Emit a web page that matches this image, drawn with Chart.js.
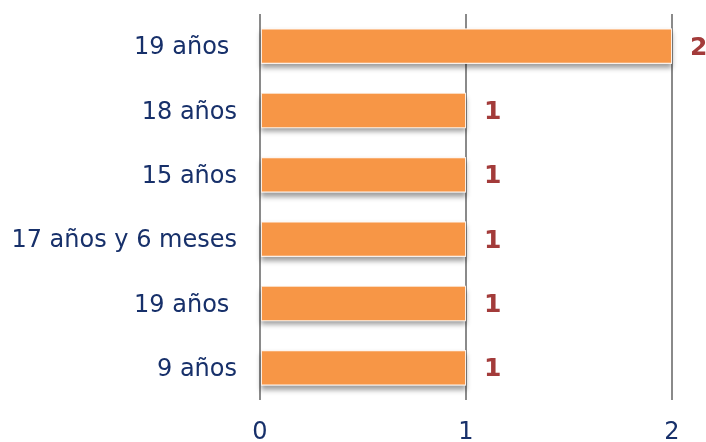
<!DOCTYPE html>
<html>
<head>
<meta charset="utf-8">
<script src="https://cdn.jsdelivr.net/npm/chart.js@4.4.1/dist/chart.umd.min.js"></script>
<style>
  html, body { margin: 0; padding: 0; background: #ffffff; }
  #wrap { width: 706px; height: 442px; }
</style>
</head>
<body>
<div id="wrap"><canvas id="graficoEdades" width="706" height="442"></canvas></div>
<script>
// Edades y cantidad de casos
const edades = ['19 años ', '18 años', '15 años', '17 años y 6 meses', '19 años ', '9 años'];
const cantidades = [2, 1, 1, 1, 1, 1];
const ticksX = [0, 1, 2];

const azul = '#17306a';
const naranja = '#f79646';
const rojo = '#a33b3a';
const fuente = '"DejaVu Sans", Verdana, sans-serif';

// sombra bajo cada barra (el clip de BarElement la corta, así que va aparte)
const sombraBarras = {
  id: 'sombraBarras',
  beforeDatasetsDraw(chart) {
    const ctx = chart.ctx;
    const meta = chart.getDatasetMeta(0);
    ctx.save();
    ctx.shadowColor = 'rgba(0,0,0,0.38)';
    ctx.shadowBlur = 5;
    ctx.shadowOffsetX = 0;
    ctx.shadowOffsetY = 4;
    ctx.fillStyle = '#ffffff';
    meta.data.forEach(bar => {
      const { x, y, base, height } = bar.getProps(['x', 'y', 'base', 'height'], true);
      ctx.fillRect(base, y - height / 2, x - base, height);
    });
    ctx.restore();
  }
};

// valor al final de cada barra
const etiquetasValor = {
  id: 'etiquetasValor',
  afterDatasetsDraw(chart) {
    const ctx = chart.ctx;
    const meta = chart.getDatasetMeta(0);
    ctx.save();
    ctx.font = 'bold 25px ' + fuente;
    ctx.fillStyle = rojo;
    ctx.textAlign = 'left';
    ctx.textBaseline = 'middle';
    meta.data.forEach((bar, i) => {
      ctx.fillText(String(cantidades[i]), bar.x + 18, bar.y + 2);
    });
    ctx.restore();
  }
};

const ctx = document.getElementById('graficoEdades').getContext('2d');
new Chart(ctx, {
  type: 'bar',
  data: {
    labels: edades,
    datasets: [{
      data: cantidades,
      backgroundColor: naranja,
      borderColor: '#fdeee2',
      borderWidth: 1,
      borderSkipped: false,
      categoryPercentage: 1,
      barPercentage: 0.55
    }]
  },
  plugins: [sombraBarras, etiquetasValor],
  options: {
    indexAxis: 'y',
    responsive: false,
    animation: false,
    layout: { padding: { top: 14, right: 34, left: 0, bottom: 0 } },
    plugins: {
      legend: { display: false },
      tooltip: { enabled: false }
    },
    scales: {
      x: {
        min: 0,
        max: 2,
        afterBuildTicks: (scale) => { scale.ticks = ticksX.map(v => ({ value: v })); },
        afterFit: (scale) => { scale.height = 42; },
        grid: { color: '#8a8a8a', lineWidth: 2, drawTicks: false },
        border: { display: false },
        ticks: {
          color: azul,
          padding: 18,
          font: { family: fuente, size: 24 }
        }
      },
      y: {
        afterFit: (scale) => {
          scale.width = 260;
          scale.paddingTop = 0;
          scale.paddingBottom = 0;
        },
        grid: { display: false, drawTicks: false },
        border: { display: false },
        ticks: {
          color: azul,
          padding: 23,
          labelOffset: 2,
          font: { family: fuente, size: 24 }
        }
      }
    }
  }
});
</script>
</body>
</html>
